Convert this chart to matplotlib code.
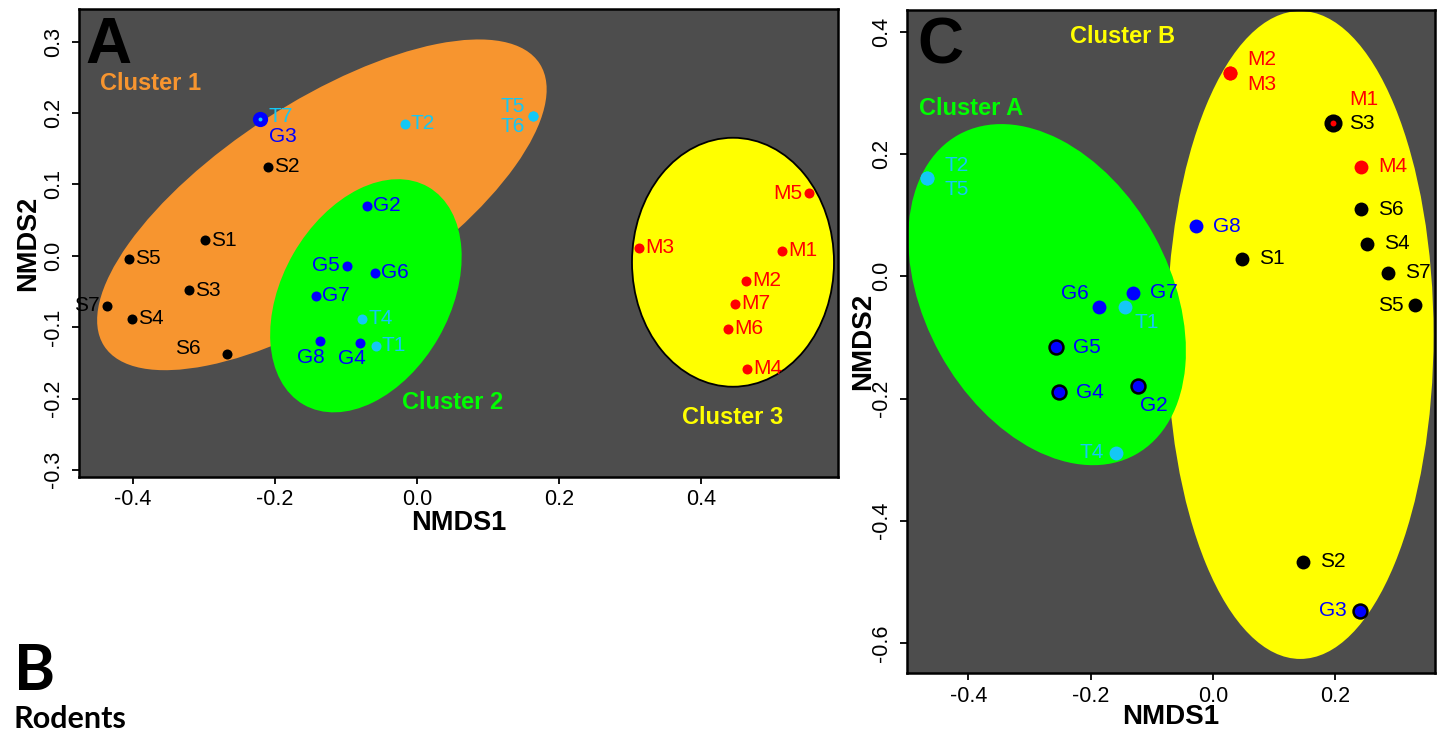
import matplotlib
matplotlib.use('Agg')
import matplotlib.pyplot as plt
from matplotlib.patches import Ellipse
from matplotlib.ticker import FormatStrFormatter

plt.rcParams['font.family'] = ['Liberation Sans', 'DejaVu Sans']

# ---- panel A data ----
a_labels = ['S1', 'S2', 'S3', 'S4', 'S5', 'S6', 'S7',
            'G2', 'G3', 'G4', 'G5', 'G6', 'G7', 'G8',
            'T1', 'T2', 'T4', 'T5', 'T6', 'T7',
            'M1', 'M2', 'M3', 'M4', 'M5', 'M6', 'M7']
a_x = [-0.299, -0.210, -0.321, -0.401, -0.406, -0.268, -0.437,
       -0.070, -0.221, -0.080, -0.098, -0.059, -0.142, -0.137,
       -0.058, -0.017, -0.077, 0.163, 0.163, -0.221,
       0.514, 0.463, 0.313, 0.465, 0.552, 0.438, 0.448]
a_y = [0.022, 0.125, -0.048, -0.088, -0.004, -0.137, -0.070,
       0.070, 0.192, -0.122, -0.014, -0.024, -0.056, -0.119,
       -0.126, 0.185, -0.088, 0.196, 0.196, 0.192,
       0.007, -0.035, 0.011, -0.158, 0.088, -0.102, -0.067]
# ellipses: centre x, centre y, width, height, angle
a_clusters = ['Cluster 1', 'Cluster 2', 'Cluster 3']
a_ell_cx = [-0.134, -0.072, 0.445]
a_ell_cy = [0.0715, -0.056, -0.009]
a_ell_w = [0.730, 0.352, 0.2845]
a_ell_h = [0.288, 0.236, 0.349]
a_ell_ang = [32.8, 60.0, 0.0]

# ---- panel C data ----
c_labels = ['S1', 'S2', 'S3', 'S4', 'S5', 'S6', 'S7',
            'G2', 'G3', 'G4', 'G5', 'G6', 'G7', 'G8',
            'T1', 'T2', 'T4', 'T5',
            'M1', 'M2', 'M3', 'M4']
c_x = [0.048, 0.147, 0.197, 0.252, 0.331, 0.242, 0.287,
       -0.122, 0.241, -0.252, -0.257, -0.186, -0.131, -0.028,
       -0.143, -0.467, -0.159, -0.467,
       0.197, 0.028, 0.028, 0.242]
c_y = [0.029, -0.467, 0.250, 0.053, -0.047, 0.110, 0.006,
       -0.180, -0.547, -0.190, -0.116, -0.050, -0.027, 0.082,
       -0.051, 0.161, -0.289, 0.161,
       0.250, 0.333, 0.333, 0.179]
c_clusters = ['Cluster B', 'Cluster A']
c_ell_cx = [0.143, -0.271]
c_ell_cy = [-0.096, -0.030]
c_ell_w = [0.436, 0.598]
c_ell_h = [1.060, 0.400]
c_ell_ang = [0.0, -61.1]

# ---- styles ----
group_col = {'S': 'black', 'G': '#0000ff', 'T': '#14c8f5', 'M': '#ff0000'}
ORANGE, GREEN, YELLOW = '#f7952f', '#00ff00', '#ffff00'
BG = '#4d4d4d'
PX = 0.72  # points per pixel at dpi 100

# label placement: (dx px, dy px up, ha)
a_place = {'S6': (-26, 5, 'right'), 'S7': (-7, 0, 'right'), 'G5': (-8, 0, 'right'),
           'M5': (-7, 0, 'right'), 'G3': (9, -18, 'left'), 'T7': (8, 2, 'left'),
           'G8': (-9, -17, 'center'), 'G4': (-8, -16, 'center'),
           'T5': (-8, 10, 'right'), 'T6': (-8, -10, 'right')}
c_place = {'S5': (-12, 0, 'right'), 'T4': (-12, 0, 'right'), 'G3': (-13, 0, 'right'),
           'M2': (17, 13, 'left'), 'M3': (17, -12, 'left'), 'M1': (16, 24, 'left'),
           'S3': (16, 0, 'left'), 'T2': (17, 12, 'left'), 'T5': (17, -12, 'left'),
           'G6': (-10, 13, 'right'), 'T1': (9, -15, 'left'), 'G2': (2, -19, 'left')}


def style_axes(ax, xlim, ylim, xticks, yticks, tsize):
    ax.set_facecolor(BG)
    ax.set_xlim(*xlim)
    ax.set_ylim(*ylim)
    ax.set_xticks(xticks)
    ax.set_yticks(yticks)
    ax.xaxis.set_major_formatter(FormatStrFormatter('%.1f'))
    ax.yaxis.set_major_formatter(FormatStrFormatter('%.1f'))
    ax.tick_params(direction='out', length=5, width=1.3, labelsize=tsize)
    ax.tick_params(axis='x', pad=4)
    ax.tick_params(axis='y', labelrotation=90, pad=6)
    for lab in ax.get_yticklabels():
        lab.set_va('center')
    for sp in ax.spines.values():
        sp.set_linewidth(1.8)
        sp.set_zorder(10)


fig = plt.figure(figsize=(14.4, 7.32), dpi=100)

# ================= panel A =================
axA = fig.add_axes([0.0549, 0.3484, 0.5271, 0.6393])
style_axes(axA, (-0.476, 0.593), (-0.31, 0.346),
           [-0.4, -0.2, 0.0, 0.2, 0.4], [-0.3, -0.2, -0.1, 0.0, 0.1, 0.2, 0.3], 15.5)

a_fill = [ORANGE, GREEN, YELLOW]
a_edge = ['none', 'none', 'black']
for i in range(len(a_clusters)):
    axA.add_patch(Ellipse((a_ell_cx[i], a_ell_cy[i]), a_ell_w[i], a_ell_h[i],
                          angle=a_ell_ang[i], facecolor=a_fill[i],
                          edgecolor=a_edge[i], lw=1.3, zorder=1 + i))

a_size = {'G3': 120, 'T7': 8}
for name, x, y in zip(a_labels, a_x, a_y):
    col = group_col[name[0]]
    axA.scatter(x, y, s=a_size.get(name, 52), color=col, lw=0,
                zorder=6 if name == 'T7' else 5)
    dx, dy, ha = a_place.get(name, (6, 0, 'left'))
    axA.annotate(name, (x, y), xytext=(dx * PX, dy * PX), textcoords='offset points',
                 ha=ha, va='center', color=col, fontsize=15, zorder=7)

axA.text(-0.4465, 0.242, 'Cluster 1', color=ORANGE, fontsize=17, fontweight='bold',
         ha='left', va='center')
axA.text(-0.021, -0.206, 'Cluster 2', color=GREEN, fontsize=17, fontweight='bold',
         ha='left', va='center')
axA.text(0.445, -0.226, 'Cluster 3', color=YELLOW, fontsize=17, fontweight='bold',
         ha='center', va='center')
axA.text(0.008, 0.885, 'A', transform=axA.transAxes, fontsize=46, fontweight='bold',
         ha='left', va='baseline', color='black')

axA.set_xlabel('NMDS1', fontsize=19.5, fontweight='bold', va='center')
axA.xaxis.set_label_coords(0.5, -0.099)
axA.set_ylabel('NMDS2', fontsize=19.5, fontweight='bold', va='center')
axA.yaxis.set_label_coords(-0.067, 0.5)

# ================= panel C =================
axC = fig.add_axes([0.6299, 0.0806, 0.3667, 0.9057])
style_axes(axC, (-0.5, 0.3635), (-0.649, 0.4356),
           [-0.4, -0.2, 0.0, 0.2], [-0.6, -0.4, -0.2, 0.0, 0.2, 0.4], 15.5)

c_fill = [YELLOW, GREEN]
for i in range(len(c_clusters)):
    axC.add_patch(Ellipse((c_ell_cx[i], c_ell_cy[i]), c_ell_w[i], c_ell_h[i],
                          angle=c_ell_ang[i], facecolor=c_fill[i],
                          edgecolor='none', zorder=1 + i))

c_size = {'S3': 170, 'M1': 18}
c_black_edge = ['G2', 'G3', 'G4', 'G5']
for name, x, y in zip(c_labels, c_x, c_y):
    col = group_col[name[0]]
    edge = 'black' if name in c_black_edge else col
    axC.scatter(x, y, s=c_size.get(name, 100), color=col, edgecolors=edge,
                linewidths=1.8 if name in c_black_edge else 0,
                zorder=6 if name == 'M1' else 5)
    dx, dy, ha = c_place.get(name, (17, 0, 'left'))
    axC.annotate(name, (x, y), xytext=(dx * PX, dy * PX), textcoords='offset points',
                 ha=ha, va='center', color=col, fontsize=15, zorder=7)

axC.text(-0.233, 0.393, 'Cluster B', color=YELLOW, fontsize=17, fontweight='bold',
         ha='left', va='center')
axC.text(-0.481, 0.2746, 'Cluster A', color=GREEN, fontsize=17, fontweight='bold',
         ha='left', va='center')
axC.text(0.019, 0.92, 'C', transform=axC.transAxes, fontsize=46, fontweight='bold',
         ha='left', va='baseline', color='black')

axC.set_xlabel('NMDS1', fontsize=20, fontweight='bold', va='center')
axC.xaxis.set_label_coords(0.5, -0.066)
axC.set_ylabel('NMDS2', fontsize=20, fontweight='bold', va='center')
axC.yaxis.set_label_coords(-0.083, 0.5)

# ================= panel B header =================
fig.text(0.0097, 0.0574, 'B', fontsize=45, fontweight='bold', ha='left', va='baseline',
         family=['Lato', 'DejaVu Sans'])
fig.text(0.0097, 0.005, 'Rodents', fontsize=22, fontweight='bold', ha='left',
         va='baseline', family=['Lato', 'DejaVu Sans'])

fig.savefig('out.png', dpi=100, facecolor='white')
